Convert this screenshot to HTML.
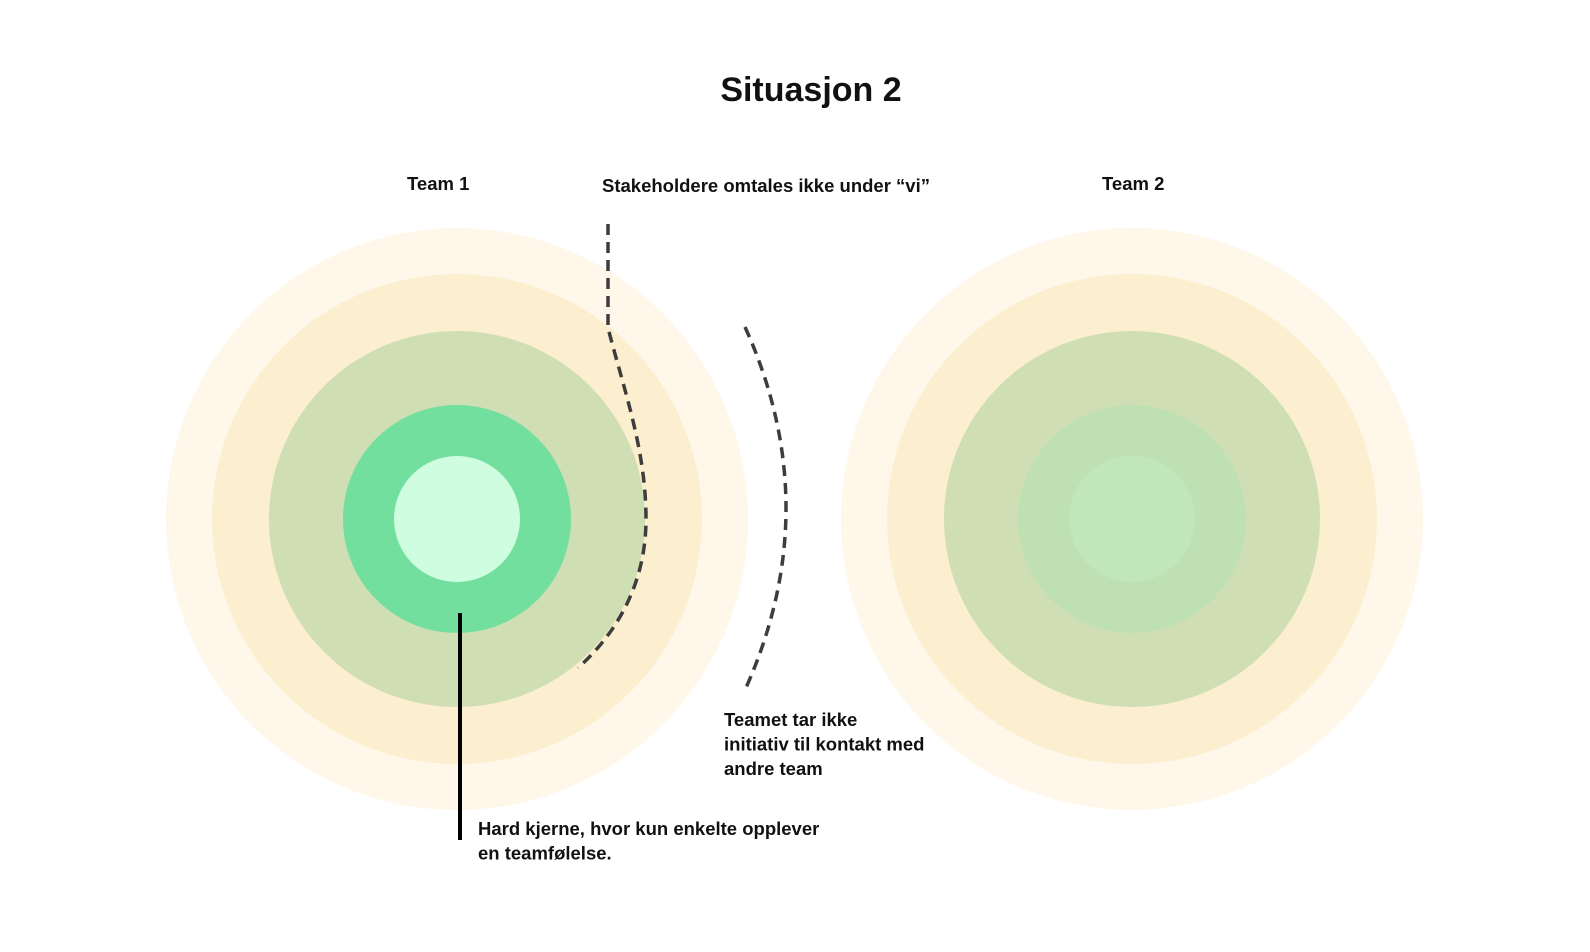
<!DOCTYPE html>
<html><head><meta charset="utf-8"><style>
body{margin:0;background:#fff;}
svg{display:block;font-family:"Liberation Sans",sans-serif;}
</style></head><body>
<svg width="1590" height="952" viewBox="0 0 1590 952">
<rect width="1590" height="952" fill="#fff"/>
<text x="811" y="101" text-anchor="middle" font-size="34" font-weight="bold" fill="#111">Situasjon 2</text>
<g>
<circle cx="457" cy="519" r="291" fill="#fff8ea"/>
<circle cx="457" cy="519" r="245" fill="#fbefcf"/>
<circle cx="457" cy="519" r="188" fill="#d0deb4"/>
<circle cx="457" cy="519" r="114" fill="#72df9f"/>
<circle cx="457" cy="519" r="63" fill="#cffde0"/>
</g>
<g>
<circle cx="1132" cy="519" r="291" fill="#fff8ea"/>
<circle cx="1132" cy="519" r="245" fill="#fbefcf"/>
<circle cx="1132" cy="519" r="188" fill="#d0deb4"/>
<circle cx="1132" cy="519" r="114" fill="#bfe0b3"/>
<circle cx="1132" cy="519" r="63" fill="#c1e6bc"/>
</g>
<path d="M608,224 V328 C624,390 646,450 646,519 C646,580 620,630 578,668" fill="none" stroke="#3d3d3d" stroke-width="3.5" stroke-dasharray="11,7"/>
<path d="M745,327 Q827,508 745,690" fill="none" stroke="#3d3d3d" stroke-width="3.5" stroke-dasharray="11,7"/>
<line x1="460" y1="613" x2="460" y2="840" stroke="#000" stroke-width="4"/>
<g font-size="18.5" font-weight="bold" fill="#111">
<text x="407" y="190">Team 1</text>
<text x="1102" y="190">Team 2</text>
<text x="602" y="192">Stakeholdere omtales ikke under “vi”</text>
<text x="724" y="726"><tspan x="724">Teamet tar ikke</tspan><tspan x="724" dy="24.5">initiativ til kontakt med</tspan><tspan x="724" dy="24.5">andre team</tspan></text>
<text x="478" y="835"><tspan x="478">Hard kjerne, hvor kun enkelte opplever</tspan><tspan x="478" dy="24.5">en teamfølelse.</tspan></text>
</g>
</svg>
</body></html>
